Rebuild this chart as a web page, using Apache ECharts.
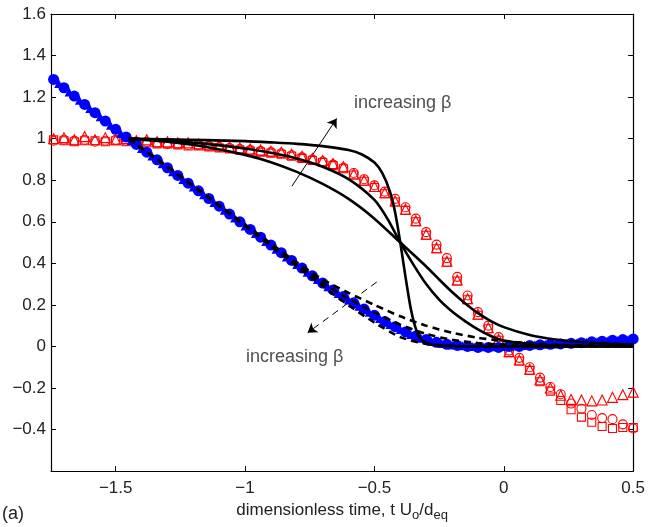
<!DOCTYPE html>
<html>
<head>
<meta charset="utf-8">
<script src="https://cdn.jsdelivr.net/npm/echarts@6/dist/echarts.min.js"></script>
<style>
  html, body { margin: 0; padding: 0; background: #fff; }
  #chart { width: 648px; height: 527px; }
</style>
</head>
<body>
<div id="chart"></div>
<script>
// tick labels
var xTicks = [-1.5, -1, -0.5, 0, 0.5]
var yTicks = [-0.4, -0.2, 0, 0.2, 0.4, 0.6, 0.8, 1, 1.2, 1.4, 1.6]

// sampling times of the measured data (red / blue markers)
var xData = [-1.74, -1.70, -1.66, -1.62, -1.58, -1.54, -1.50, -1.46, -1.42, -1.38,
  -1.34, -1.30, -1.26, -1.22, -1.18, -1.14, -1.10, -1.06, -1.02, -0.98,
  -0.94, -0.90, -0.86, -0.82, -0.78, -0.74, -0.70, -0.66, -0.62, -0.58,
  -0.54, -0.50, -0.46, -0.42, -0.38, -0.34, -0.30, -0.26, -0.22, -0.18,
  -0.14, -0.10, -0.06, -0.02, 0.02, 0.06, 0.10, 0.14, 0.18, 0.22,
  0.26, 0.30, 0.34, 0.38, 0.42, 0.46, 0.50]
// second blue data set, sampled between the first
var xData2 = [-1.72, -1.68, -1.64, -1.60, -1.56, -1.52, -1.48, -1.44, -1.40, -1.36,
  -1.32, -1.28, -1.24, -1.20, -1.16, -1.12, -1.08, -1.04, -1.00, -0.96,
  -0.92, -0.88, -0.84, -0.80, -0.76, -0.72, -0.68, -0.64, -0.60, -0.56,
  -0.52, -0.48, -0.44, -0.40, -0.36, -0.32, -0.28, -0.24, -0.20, -0.16,
  -0.12, -0.08, -0.04, 0.00, 0.04, 0.08, 0.12, 0.16, 0.20, 0.24,
  0.28, 0.32, 0.36, 0.40, 0.44, 0.48]

// red open markers
var redTri = [1.00, 1.005, 0.995, 1.01, 0.995, 1.005, 0.995, 1.0, 0.99, 0.995,
  0.985, 0.985, 0.98, 0.98, 0.975, 0.97, 0.965, 0.96, 0.955, 0.95,
  0.945, 0.94, 0.935, 0.925, 0.915, 0.905, 0.895, 0.88, 0.865, 0.83,
  0.80, 0.77, 0.74, 0.70, 0.66, 0.605, 0.54, 0.475, 0.41, 0.32,
  0.23, 0.155, 0.09, 0.035, -0.025, -0.065, -0.11, -0.16, -0.20, -0.235,
  -0.255, -0.258, -0.262, -0.258, -0.245, -0.232, -0.22]
var redCirc = [0.99, 0.995, 0.99, 0.995, 0.985, 0.99, 0.995, 0.99, 0.985, 0.985,
  0.98, 0.975, 0.975, 0.97, 0.97, 0.965, 0.96, 0.955, 0.95, 0.945,
  0.94, 0.935, 0.93, 0.92, 0.91, 0.90, 0.89, 0.875, 0.86, 0.835,
  0.805, 0.775, 0.745, 0.71, 0.67, 0.615, 0.55, 0.49, 0.425, 0.335,
  0.245, 0.165, 0.10, 0.045, -0.02, -0.055, -0.10, -0.15, -0.195, -0.23,
  -0.275, -0.30, -0.33, -0.345, -0.35, -0.375, -0.395]
var redSq = [0.995, 0.99, 0.985, 0.99, 0.99, 0.985, 0.99, 0.985, 0.98, 0.98,
  0.975, 0.975, 0.97, 0.965, 0.965, 0.96, 0.955, 0.95, 0.945, 0.94,
  0.935, 0.93, 0.925, 0.915, 0.905, 0.895, 0.885, 0.87, 0.855, 0.825,
  0.795, 0.765, 0.735, 0.695, 0.655, 0.60, 0.535, 0.47, 0.405, 0.315,
  0.225, 0.15, 0.085, 0.03, -0.03, -0.07, -0.115, -0.17, -0.215, -0.26,
  -0.305, -0.34, -0.365, -0.385, -0.395, -0.39, -0.39]

// blue filled markers
var blueDot = [1.285, 1.245, 1.205, 1.165, 1.125, 1.085, 1.045, 1.008, 0.972, 0.935,
  0.898, 0.86, 0.823, 0.786, 0.749, 0.712, 0.675, 0.637, 0.60, 0.563,
  0.526, 0.488, 0.451, 0.414, 0.377, 0.34, 0.305, 0.272, 0.24, 0.21,
  0.18, 0.15, 0.12, 0.095, 0.07, 0.05, 0.033, 0.02, 0.01, 0.005,
  0.0, -0.005, -0.005, -0.005, 0.0, 0.0, 0.005, 0.008, 0.01, 0.012,
  0.015, 0.018, 0.022, 0.025, 0.03, 0.033, 0.036]
var blueTri = [1.265, 1.225, 1.185, 1.145, 1.105, 1.065, 1.025, 0.99, 0.953, 0.916,
  0.879, 0.841, 0.804, 0.767, 0.73, 0.693, 0.656, 0.618, 0.58, 0.543,
  0.505, 0.468, 0.43, 0.394, 0.357, 0.322, 0.287, 0.255, 0.224, 0.194,
  0.164, 0.134, 0.106, 0.081, 0.058, 0.04, 0.025, 0.014, 0.007, 0.003,
  0.0, -0.002, -0.002, 0.0, 0.002, 0.005, 0.008, 0.01, 0.012, 0.014,
  0.017, 0.02, 0.023, 0.026, 0.029, 0.032]

// model curves, solid (three beta values)
var solidAX = [-1.45, -1.3, -1.15, -1.0, -0.9, -0.8, -0.7, -0.6, -0.55, -0.5, -0.47, -0.44, -0.42, -0.40, -0.38, -0.36, -0.34, -0.32, -0.29, -0.25, -0.15, 0, 0.2, 0.5]
var solidAY = [1.0, 0.997, 0.993, 0.988, 0.982, 0.975, 0.964, 0.945, 0.925, 0.885, 0.835, 0.745, 0.645, 0.50, 0.335, 0.185, 0.085, 0.035, 0.012, 0.004, 0.001, 0, 0, 0]
var solidBX = [-1.45, -1.3, -1.15, -1.0, -0.9, -0.8, -0.7, -0.6, -0.5, -0.45, -0.4, -0.35, -0.3, -0.25, -0.2, -0.15, -0.1, -0.05, 0, 0.1, 0.2, 0.35, 0.5]
var solidBY = [1.0, 0.99, 0.975, 0.953, 0.932, 0.905, 0.865, 0.805, 0.705, 0.615, 0.50, 0.395, 0.30, 0.225, 0.168, 0.122, 0.082, 0.05, 0.028, 0.012, 0.005, 0.002, 0.001]
var solidCX = [-1.45, -1.3, -1.15, -1.0, -0.9, -0.8, -0.7, -0.6, -0.5, -0.4, -0.3, -0.25, -0.2, -0.15, -0.1, -0.05, 0, 0.1, 0.2, 0.3, 0.4, 0.5]
var solidCY = [1.0, 0.985, 0.96, 0.922, 0.887, 0.84, 0.782, 0.71, 0.615, 0.50, 0.385, 0.322, 0.262, 0.208, 0.16, 0.122, 0.093, 0.055, 0.033, 0.021, 0.014, 0.01]

// model curves, dashed (three beta values)
var dashX = [-1.45, -1.3, -1.15, -1.0, -0.9, -0.8, -0.7, -0.6, -0.5, -0.4, -0.3, -0.2, -0.1, 0, 0.1, 0.2, 0.35, 0.5]
var dashAY = [1.0, 0.865, 0.727, 0.587, 0.495, 0.405, 0.322, 0.258, 0.2, 0.145, 0.1, 0.066, 0.042, 0.026, 0.015, 0.008, 0.004, 0.002]
var dashBY = [1.0, 0.865, 0.725, 0.583, 0.488, 0.394, 0.305, 0.23, 0.163, 0.105, 0.06, 0.032, 0.016, 0.008, 0.004, 0.002, 0.001, 0]
var dashCY = [1.0, 0.865, 0.724, 0.58, 0.483, 0.385, 0.29, 0.198, 0.115, 0.045, 0.012, 0.003, 0, 0, 0, 0, 0, 0]

// annotations (data coordinates)
var arrowUp = [[-0.819, 0.771], [-0.646, 1.097]]
var arrowDown = [[-0.491, 0.310], [-0.758, 0.066]]
var textUp = [-0.391, 1.173]
var textDown = [-0.808, -0.049]

var font = 'Liberation Sans'
var chart = echarts.init(document.getElementById('chart'))

function pairs(xs, ys) {
  return ys.map(function(v, i) { return [xs[i], v] })
}
function minus(v) {
  return String(v).replace('-', '\u2212')
}
function markerSeries(ys, xs, symbol, size, filled, color) {
  return {
    type: 'scatter',
    data: pairs(xs, ys),
    symbol: symbol,
    symbolSize: size,
    itemStyle: filled
      ? { color: color, opacity: 1 }
      : { color: 'rgba(0,0,0,0)', borderColor: color, borderWidth: 1.1, opacity: 1 },
    silent: true
  }
}
function curve(xs, ys, dashed) {
  return {
    type: 'line',
    data: pairs(xs, ys),
    showSymbol: false,
    smooth: 0.25,
    lineStyle: { color: '#000', width: 2.6, type: dashed ? [7, 5] : 'solid' },
    silent: true
  }
}
function note(pos) {
  return {
    type: 'scatter',
    data: [pos],
    symbolSize: 1,
    itemStyle: { color: 'rgba(0,0,0,0)' },
    label: {
      show: true,
      position: 'inside',
      formatter: 'increasing \u03b2',
      fontFamily: font,
      fontSize: 18,
      color: '#222'
    },
    silent: true
  }
}
function arrow(coords, dashed) {
  return {
    type: 'lines',
    coordinateSystem: 'cartesian2d',
    data: [{ coords: coords }],
    symbol: ['none', 'arrow'],
    symbolSize: 9,
    lineStyle: { color: '#000', width: 1, type: dashed ? [7, 5] : 'solid', opacity: 1 },
    silent: true
  }
}

var axisBase = {
  type: 'value',
  axisLine: { show: true, onZero: false, lineStyle: { color: '#000', width: 1.2 } },
  axisTick: { show: true, inside: true, length: 5, lineStyle: { color: '#000' } },
  splitLine: { show: false }
}

var option = {
  animation: false,
  backgroundColor: '#fff',
  grid: { left: 51, right: 14, top: 14, bottom: 54 },
  xAxis: [
    Object.assign({}, axisBase, {
      min: -1.75, max: 0.5, position: 'bottom',
      axisTick: Object.assign({}, axisBase.axisTick, { customValues: xTicks }),
      axisLabel: { customValues: xTicks, formatter: minus, fontFamily: font, fontSize: 17, color: '#222', margin: 9 },
      name: '{n|dimensionless time, t U}{s|o}{n|/d}{s|eq}',
      nameLocation: 'middle',
      nameGap: 27,
      nameTextStyle: {
        rich: {
          n: { fontFamily: font, fontSize: 17, color: '#222' },
          s: { fontFamily: font, fontSize: 13, color: '#222', padding: [10, 0, 0, 0] }
        }
      }
    }),
    Object.assign({}, axisBase, {
      min: -1.75, max: 0.5, position: 'top',
      axisTick: Object.assign({}, axisBase.axisTick, { customValues: xTicks }),
      axisLabel: { show: false }
    })
  ],
  yAxis: [
    Object.assign({}, axisBase, {
      min: -0.6, max: 1.6, position: 'left',
      axisTick: Object.assign({}, axisBase.axisTick, { customValues: yTicks }),
      axisLabel: { customValues: yTicks, formatter: minus, fontFamily: font, fontSize: 17, color: '#222', margin: 5 }
    }),
    Object.assign({}, axisBase, {
      min: -0.6, max: 1.6, position: 'right',
      axisTick: Object.assign({}, axisBase.axisTick, { customValues: yTicks }),
      axisLabel: { show: false }
    })
  ],
  graphic: [{
    type: 'text', left: 2, top: 505,
    style: { text: '(a)', font: '18px "Liberation Sans"', fill: '#222' }
  }],
  series: [
    markerSeries(redTri, xData, 'triangle', 10, false, '#ff0000'),
    markerSeries(redCirc, xData, 'circle', 9, false, '#ff0000'),
    markerSeries(redSq, xData, 'rect', 8, false, '#ff0000'),
    markerSeries(blueTri, xData2, 'triangle', 9, true, '#0000ff'),
    markerSeries(blueDot, xData, 'circle', 11, true, '#0000ff'),
    curve(solidAX, solidAY, false),
    curve(solidBX, solidBY, false),
    curve(solidCX, solidCY, false),
    curve(dashX, dashAY, true),
    curve(dashX, dashBY, true),
    curve(dashX, dashCY, true),
    arrow(arrowUp, false),
    arrow(arrowDown, true),
    note(textUp),
    note(textDown)
  ]
}
chart.setOption(option)
window.addEventListener('resize', function() {
  chart.resize()
})
</script>
</body>
</html>
